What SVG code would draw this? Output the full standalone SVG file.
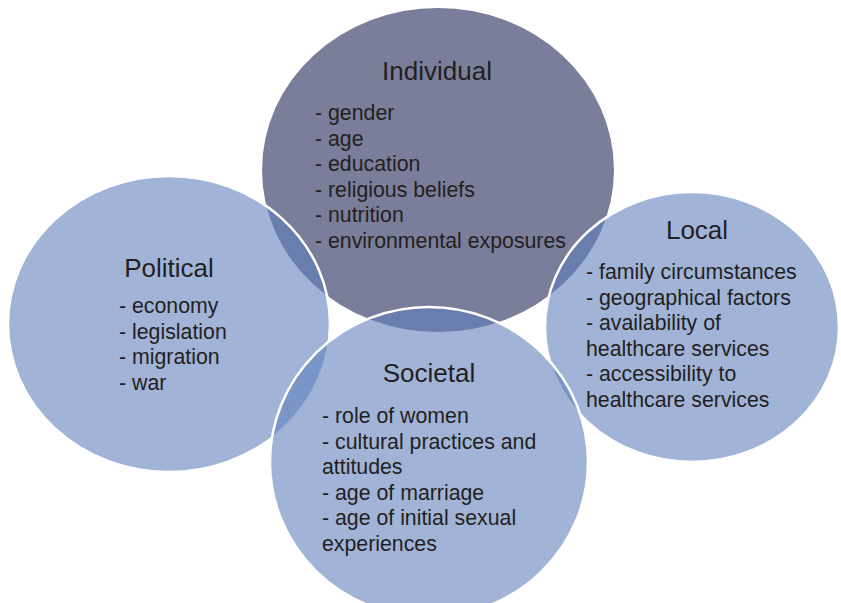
<svg xmlns="http://www.w3.org/2000/svg" width="841" height="603" viewBox="0 0 841 603">
<style>
.lt{fill:#5e7fbc;fill-opacity:0.585;stroke:#ffffff;stroke-width:2.5}
.dk{fill:#7a7e9a}
text{font-family:"Liberation Sans",Arial,sans-serif;fill:#231f20}
.t{font-size:26px;text-anchor:middle}
.b{font-size:21.3px}
</style>
<rect width="841" height="603" fill="#ffffff"/>
<g id="individual">
<ellipse class="dk" cx="438" cy="170" rx="176" ry="162"/>
<text class="t" x="437" y="80">Individual</text>
<text class="b"><tspan x="315" y="120">- gender</tspan><tspan x="315" y="145.6">- age</tspan><tspan x="315" y="171.2">- education</tspan><tspan x="315" y="196.8">- religious beliefs</tspan><tspan x="315" y="222.4">- nutrition</tspan><tspan x="315" y="248">- environmental exposures</tspan></text>
</g>
<g id="political">
<ellipse class="lt" cx="169" cy="324" rx="161" ry="148"/>
<text class="t" x="169" y="277">Political</text>
<text class="b"><tspan x="119" y="313">- economy</tspan><tspan x="119" y="338.6">- legislation</tspan><tspan x="119" y="364.2">- migration</tspan><tspan x="119" y="389.8">- war</tspan></text>
</g>
<g id="local">
<ellipse class="lt" cx="692" cy="327" rx="147" ry="135"/>
<text class="t" x="697" y="239">Local</text>
<text class="b"><tspan x="586" y="279">- family circumstances</tspan><tspan x="586" y="304.6">- geographical factors</tspan><tspan x="586" y="330.2">- availability of</tspan><tspan x="586" y="355.8">healthcare services</tspan><tspan x="586" y="381.4">- accessibility to</tspan><tspan x="586" y="407">healthcare services</tspan></text>
</g>
<g id="societal">
<ellipse class="lt" cx="429" cy="462" rx="159" ry="155"/>
<text class="t" x="429" y="382">Societal</text>
<text class="b"><tspan x="322" y="423">- role of women</tspan><tspan x="322" y="448.6">- cultural practices and</tspan><tspan x="322" y="474.2">attitudes</tspan><tspan x="322" y="499.8">- age of marriage</tspan><tspan x="322" y="525.4">- age of initial sexual</tspan><tspan x="322" y="551">experiences</tspan></text>
</g>
<g id="connectors"/>
</svg>
